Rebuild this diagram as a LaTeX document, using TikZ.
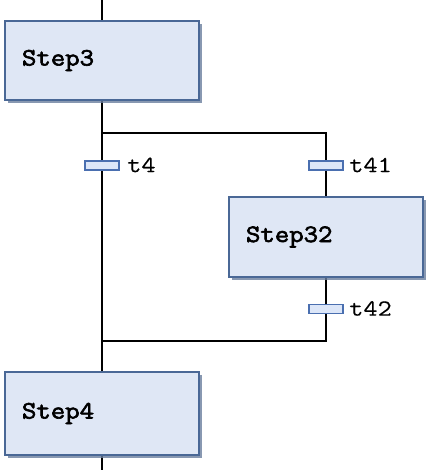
\documentclass[tikz,border=0pt]{standalone}
\usepackage{fontspec}
\newfontfamily\stepfont{Latin Modern Mono}[FakeBold=2.5,FakeStretch=1.12]
\newfontfamily\labfont{Latin Modern Mono}[FakeBold=0.3,FakeStretch=1.2]
\usetikzlibrary{shadows,backgrounds}
\definecolor{boxfill}{HTML}{DFE7F5}
\definecolor{boxedge}{HTML}{4A6896}
\definecolor{shadowc}{HTML}{6A7E9E}
\definecolor{trfill}{HTML}{DCE6F8}
\definecolor{tredge}{HTML}{4A6FB0}
\tikzset{
  stepbox/.style={draw=boxedge, line width=1.3pt, fill=boxfill, rectangle,
    minimum width=194pt, text width=160pt, align=left, inner xsep=17pt,
    font=\stepfont\fontsize{25}{27}\selectfont,
    drop shadow={shadow xshift=3pt, shadow yshift=-3pt, fill=shadowc, opacity=0.8}},
  trans/.style={draw=tredge, line width=1.2pt, fill=trfill, rectangle,
    minimum width=34pt, minimum height=9pt, inner sep=0pt},
  tlabel/.style={anchor=west, inner sep=0pt, font=\labfont\fontsize{23}{25}\selectfont},
  wire/.style={draw=black, line width=1.5pt}
}
\begin{document}
\begin{tikzpicture}[x=1pt,y=-1pt]
\useasboundingbox (0,0) rectangle (427,470);
\node[stepbox, minimum height=79pt] (s3) at (102,60.5) {Step3};
\node[stepbox, minimum width=193pt, minimum height=80pt] (s32) at (326,237) {Step32};
\node[stepbox, minimum height=83pt] (s4) at (102,413.5) {Step4};
\node[trans] (t4) at (102,165.5) {};
\node[trans] (t41) at (326,165.5) {};
\node[trans] (t42) at (326,309) {};
\node[tlabel] (l4) at (127,165) {t4};
\node[tlabel] (l41) at (349,165) {t41};
\node[tlabel] (l42) at (349,308.5) {t42};
\coordinate (top) at (102,0);
\coordinate (bot) at (102,470);
\coordinate (divL) at (102,133);
\coordinate (divR) at (326,133);
\coordinate (conL) at (102,341);
\coordinate (conR) at (326,341);
\begin{scope}[on background layer]
\draw[wire] (top) -- (s3.north);
\draw[wire] (s3.south) -- (t4.north);
\draw[wire] (t4.south) -- (s4.north);
\draw[wire] (divL) -- (divR) -- (t41.north);
\draw[wire] (t41.south) -- (s32.north);
\draw[wire] (s32.south) -- (t42.north);
\draw[wire] (t42.south) -- (conR) -- (conL);
\draw[wire] (s4.south) -- (bot);
\end{scope}
\end{tikzpicture}
\end{document}
